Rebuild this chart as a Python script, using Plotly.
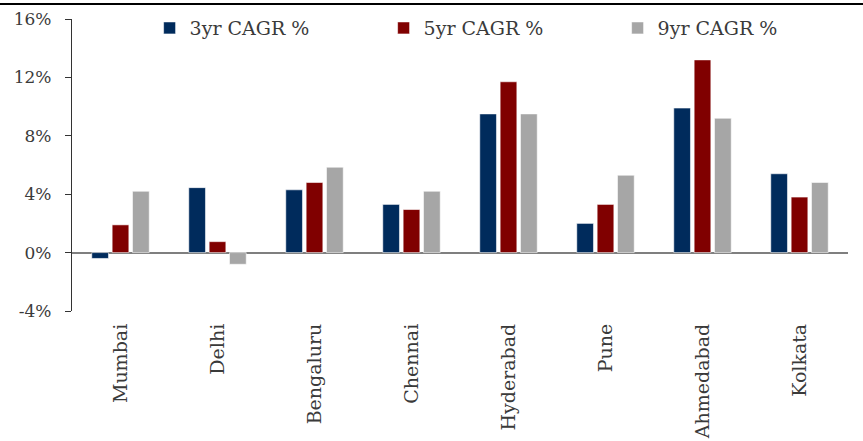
import plotly.graph_objects as go

cities = ["Mumbai", "Delhi", "Bengaluru", "Chennai", "Hyderabad", "Pune", "Ahmedabad", "Kolkata"]
cagr_3yr = [-0.4, 4.45, 4.3, 3.3, 9.5, 2.0, 9.9, 5.4]
cagr_5yr = [1.9, 0.75, 4.8, 2.95, 11.7, 3.3, 13.2, 3.8]
cagr_9yr = [4.2, -0.8, 5.85, 4.2, 9.5, 5.3, 9.2, 4.8]
series_names = ["3yr CAGR %", "5yr CAGR %", "9yr CAGR %"]
colors = ["#002B5C", "#800000", "#A6A6A6"]
y_ticks = [-4, 0, 4, 8, 12, 16]
y_tick_text = ["-4%", "0%", "4%", "8%", "12%", "16%"]

FONT = "DejaVu Serif, Palatino Linotype, Book Antiqua, serif"
TXT = "#3A3A3A"

fig = go.Figure()
for name, vals, col in zip(series_names, [cagr_3yr, cagr_5yr, cagr_9yr], colors):
    fig.add_trace(go.Bar(
        x=cities, y=vals, name=name,
        marker=dict(color=col, line=dict(color="rgba(255,255,255,0.7)", width=0.8)),
    ))

fig.update_layout(
    width=863, height=441,
    margin=dict(l=72, r=15, t=19, b=130, autoexpand=False),
    paper_bgcolor="white", plot_bgcolor="white",
    barmode="group", bargap=0.37, bargroupgap=0.18,
    font=dict(family=FONT, size=19, color=TXT),
    showlegend=True,
    legend=dict(orientation="h", x=0.100, xanchor="left",
                y=1.034, yanchor="top",
                bgcolor="rgba(0,0,0,0)", entrywidth=189, entrywidthmode="pixels",
                font=dict(family=FONT, size=19, color=TXT), itemwidth=30),
    xaxis=dict(showline=False, ticks="", showgrid=False, tickangle=-90, automargin=False,
               ticklabelstandoff=8, tickfont=dict(family=FONT, size=19, color=TXT)),
    yaxis=dict(range=[-4, 16], tickvals=y_ticks, ticktext=y_tick_text, automargin=False,
               showline=True, linecolor="#333333", linewidth=1.2,
               ticks="outside", ticklen=6, tickcolor="#333333", tickwidth=1.2,
               showgrid=False, zeroline=True, zerolinecolor="#7F7F7F", zerolinewidth=1.8,
               ticklabelstandoff=10, tickfont=dict(family=FONT, size=17, color=TXT)),
    shapes=[dict(type="line", xref="paper", yref="paper",
                 x0=-72/776, x1=1+15/776, y0=1+15/292, y1=1+15/292,
                 line=dict(color="black", width=2))],
)

fig.write_html("out.html")
